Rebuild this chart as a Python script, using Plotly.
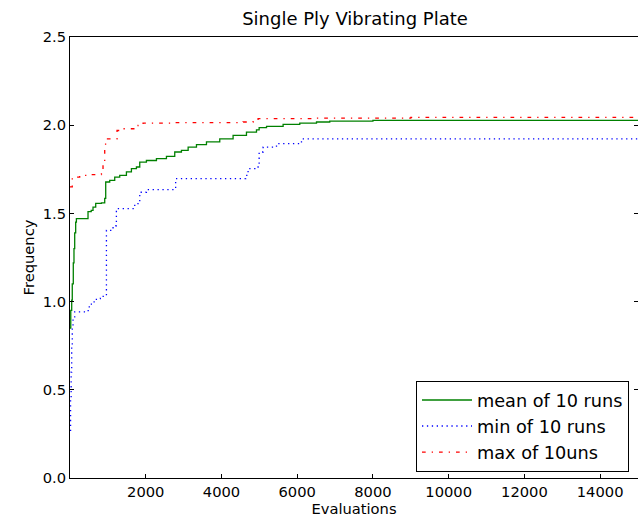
import plotly.graph_objects as go

# ---- data ----
mean_x = [0, 20, 45, 60, 87, 105, 124, 150, 169, 476, 560, 608, 679, 830, 917, 943, 1049, 1181,
          1313, 1490, 1622, 1754, 1842, 2018, 2283, 2547, 2766, 2943, 3120, 3340, 3604, 3955,
          4307, 4660, 4925, 4995, 5190, 5628, 6068, 6510, 6860, 8000, 15000]
mean_y = [0.85, 0.95, 1.008, 1.10, 1.22, 1.30, 1.39, 1.45, 1.47, 1.51, 1.517, 1.536, 1.557, 1.56,
          1.585, 1.678, 1.687, 1.706, 1.716, 1.735, 1.754, 1.763, 1.791, 1.80, 1.81, 1.823, 1.848,
          1.857, 1.876, 1.89, 1.905, 1.923, 1.942, 1.961, 1.974, 1.986, 1.993, 2.005, 2.012, 2.018,
          2.023, 2.027, 2.027]

min_x = [0, 15, 30, 45, 60, 80, 124, 480, 565, 697, 800, 962, 1137, 1225, 1710, 1800, 1842, 2018,
         2790, 4640, 4703, 4880, 4995, 5100, 5453, 6113, 15000]
min_y = [0.27, 0.45, 0.60, 0.75, 0.85, 0.913, 0.942, 0.97, 0.998, 1.017, 1.03, 1.404, 1.43, 1.527,
         1.555, 1.565, 1.62, 1.635, 1.697, 1.716, 1.754, 1.763, 1.848, 1.876, 1.895, 1.923, 1.923]

max_x = [0, 60, 150, 256, 520, 830, 872, 917, 940, 1242, 1313, 1798, 1930, 2700, 4571, 4835, 4967,
         6500, 9000, 15000]
max_y = [1.65, 1.70, 1.706, 1.716, 1.72, 1.735, 1.78, 1.876, 1.923, 1.97, 1.98, 1.999, 2.012,
         2.015, 2.018, 2.027, 2.037, 2.04, 2.044, 2.044]

x_ticks = [2000, 4000, 6000, 8000, 10000, 12000, 14000]
x_tick_labels = ["2000", "4000", "6000", "8000", "10000", "12000", "14000"]
y_ticks = [0.0, 0.5, 1.0, 1.5, 2.0, 2.5]

FONT = "DejaVu Sans"

fig = go.Figure()
fig.add_trace(go.Scatter(x=mean_x, y=mean_y, mode="lines", name="mean of 10 runs",
                         line=dict(color="#008000", width=1.3, shape="hv")))
fig.add_trace(go.Scatter(x=min_x, y=min_y, mode="lines", name="min of 10 runs",
                         line=dict(color="#0000ff", width=1.3, shape="hv", dash="1.3px,3.6px")))
fig.add_trace(go.Scatter(x=max_x, y=max_y, mode="lines", name="max of 10uns",
                         line=dict(color="#ff0000", width=1.3, shape="hv",
                                   dash="3.7px,6px,1.3px,6px")))
# helper trace so the right-side tick axis is drawn
fig.add_trace(go.Scatter(x=[None], y=[None], yaxis="y2", showlegend=False, hoverinfo="skip"))

fig.update_layout(
    width=638, height=517,
    margin=dict(l=70, r=0, t=37, b=39),
    paper_bgcolor="white", plot_bgcolor="white",
    font=dict(family=FONT, size=15, color="black"),
    title=dict(text="Single Ply Vibrating Plate", x=355 / 638, xanchor="center",
               y=1 - 19 / 517, yanchor="middle", yref="container",
               font=dict(family=FONT, size=18, color="black")),
    xaxis=dict(range=[0, 15000], tickvals=x_ticks, ticktext=x_tick_labels, ticks="inside",
               ticklen=4, tickwidth=1,
               tickcolor="black", showline=True, linecolor="black", linewidth=1, mirror=True,
               showgrid=False, zeroline=False, automargin=False,
               tickfont=dict(family=FONT, size=14.7, color="black"),
               title=dict(text="Evaluations", standoff=0,
                          font=dict(family=FONT, size=14.7, color="black"))),
    yaxis=dict(range=[0, 2.5], tickvals=y_ticks, tickformat=".1f", ticks="inside", ticklen=4,
               tickwidth=1, tickcolor="black", showline=True, linecolor="black", linewidth=1,
               mirror=False, showgrid=False, zeroline=False, automargin=False,
               tickfont=dict(family=FONT, size=14.7, color="black"),
               title=dict(text="Frequency", standoff=4,
                          font=dict(family=FONT, size=14.7, color="black"))),
    yaxis2=dict(range=[0, 2.5], tickvals=y_ticks, overlaying="y", side="right", ticks="inside",
                ticklen=4, tickwidth=1, tickcolor="black", showticklabels=False, showline=False,
                showgrid=False, zeroline=False, automargin=False),
    legend=dict(x=(629 - 70) / 568, y=(478 - 472) / 441, xanchor="right", yanchor="bottom",
                bordercolor="black", borderwidth=1, bgcolor="white",
                font=dict(family=FONT, size=17.7, color="black"), itemwidth=50,
                tracegroupgap=0),
    showlegend=True,
)

fig.write_html("out.html", config={"displayModeBar": False},
               post_script="document.body.style.margin='0';document.body.style.overflow='hidden';")
